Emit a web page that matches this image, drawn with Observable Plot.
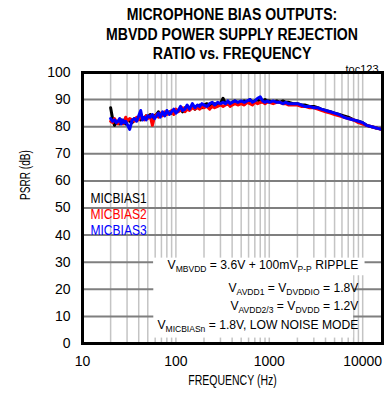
<!DOCTYPE html>
<html><head><meta charset="utf-8">
<script src="https://cdn.jsdelivr.net/npm/d3@7"></script>
<script src="https://cdn.jsdelivr.net/npm/@observablehq/plot@0.6"></script>
<style>
body{margin:0;background:#fff;}
#title{width:300px;padding:5px 2px 0 82px;height:53px;text-align:center;white-space:nowrap;font-family:"Liberation Sans",Arial,sans-serif;font-weight:bold;font-size:16px;line-height:19.5px;color:#000;transform:scaleX(0.88);transform-origin:232px 0;}
</style></head>
<body>
<div id="title">MICROPHONE BIAS OUTPUTS:<br>MBVDD POWER SUPPLY REJECTION<br>RATIO vs. FREQUENCY</div>
<div id="chart"></div>
<script>
const series = ["MICBIAS1","MICBIAS2","MICBIAS3"];
const seriesColors = ["#000000","#ff0000","#0000ff"];
const xTicks = [10,100,1000,10000];
const yTicks = [0,10,20,30,40,50,60,70,80,90,100];
const gridFreqs = [20,30,40,50,60,70,80,90,100,200,300,400,500,600,700,800,900,1000,2000,3000,4000,5000,6000,7000,8000,9000,10000];
const gridDb = [10,20,30,40,50,60,70,80,90];
const freq = [
 20,21,22,23,24,25,26,27,28,29,
 30,32,34,36,38,40,42,44,46,48,
 50,53,56,59,62,65,68,72,76,80,
 85,90,95,100,106,112,118,125,132,140,
 150,160,170,180,190,200,215,230,245,260,
 280,300,320,340,360,380,400,430,460,500,
 540,580,620,660,700,750,800,850,900,950,
 1000,1100,1200,1300,1400,1500,1600,1800,2000,2200,
 2400,2700,3000,3300,3600,4000,4500,5000,5600,6300,
 7000,8000,9000,10000,11000,12500,14000,16000];
const micbias1 = [
 87,83,80.5,81.5,82,81,82.5,81.5,82,81,
 82.5,82,81.5,83,82.5,83,82.5,83.5,83,84,
 83.5,84.5,83,84,84.5,85.5,84,85,84.5,85,
 85.5,85,86,85.5,86,86.5,85.5,87,86.5,87,
 87.5,86.5,87.5,88,87,88,88.5,87.5,88,88.5,
 88,88.5,90.5,88.5,89,88.5,89,89.5,88.5,89,
 89.5,89,90,89,89.5,90,89,89.5,90,89.5,
 89.5,89,89.5,89,89.5,89,89,88.5,88.5,88,
 88,87.5,87.5,87,86.5,86,85.5,85,84.5,84,
 83.5,82.5,82,81.5,80.5,80,79.5,79];
const micbias2 = [
 82,81.5,83,82,81,82.5,81.5,81,82,83.5,
 82,83,82.5,82,83.5,82.5,84,83,82.5,84,
 83,84,80.5,83.5,84.5,83.5,85,84,85.5,84.5,
 85,86,84.5,86.5,85.5,86,87,85.5,86.5,86,
 87,86.5,87,86.5,87.5,87,87.5,86.5,87.5,87,
 87.5,88,87.5,88,88.5,87.5,88,88.5,88,88.5,
 88,89,88.5,88,89,88.5,89,89,88.5,89,
 89,88.5,89,89,88.5,88.5,88,88,88,87.5,
 87.5,87,87,86.5,86,85.5,85,84.5,84,83.5,
 83,82.5,81.5,81,80.5,80,79.5,79];
const micbias3 = [
 83,82,82.5,81.5,82,83,81,82.5,81.5,82,
 81,79,82.5,83,82,84,86,82.5,83.5,82.5,
 84,83.5,84.5,83,84,85,83.5,85.5,84,86,
 84.5,85.5,86.5,85,86,87.5,86,86.5,88,86.5,
 88.5,87,88,87.5,88.5,88,87.5,88.5,89,88,
 89,88.5,89,88.5,89.5,88.5,89,89.5,89,89.5,
 89,89.5,90,89,89.5,90.5,91,89.5,89,89.5,
 89,89.5,89,89,88.5,89,88.5,88.5,88.5,88,
 87.5,87.5,87,87,86.5,86,85.5,85,84.5,83.5,
 83,82.5,82,81.5,80.5,80,79.5,79];
const notes = [
 "V_{MBVDD} = 3.6V + 100mV_{P-P} RIPPLE",
 "V_{AVDD1} = V_{DVDDIO} = 1.8V",
 "V_{AVDD2/3} = V_{DVDD} = 1.2V",
 "V_{MICBIASn} = 1.8V, LOW NOISE MODE"];
const xLabel = "FREQUENCY (Hz)";
const yLabel = "PSRR (dB)";

const values = [micbias1, micbias2, micbias3];
const data = [];
series.forEach((s, i) => freq.forEach((f, j) => data.push({series: s, f, v: values[i][j]})));

const font = "'Liberation Sans', Arial, sans-serif";
const noteDy = [-75, -52, -34, -15];
const legendDy = [121, 137, 153];

const chart = Plot.plot({
  width: 384, height: 335,
  marginTop: 14, marginLeft: 82, marginRight: 2, marginBottom: 50,
  style: {fontFamily: font, fontSize: "14px", background: "white", color: "black", overflow: "visible"},
  x: {type: "log", domain: [10, 16300], ticks: xTicks, tickFormat: d => String(d), tickSize: 0, tickPadding: 13, label: null},
  y: {domain: [0, 100], ticks: yTicks, tickSize: 0, tickPadding: 12, label: null},
  color: {domain: series, range: seriesColors},
  marks: [
    Plot.ruleX(gridFreqs, {x: d => d, stroke: "#c4c4c4", strokeWidth: 1.5}),
    Plot.ruleY(gridDb, {y: d => d, stroke: "#7f7f7f", strokeWidth: 2}),
    Plot.rect([0], {x1: 58, x2: 8000, y1: 2, y2: 31, fill: "white"}),
    Plot.rect([0], {x1: 58, x2: 10600, y1: 25, y2: 31.5, fill: "white"}),
    Plot.line(data, {x: "f", y: "v", stroke: "series", strokeWidth: 3}),
    Plot.frame({stroke: "black", strokeWidth: 3}),
    ...series.map((s, i) => Plot.text([s], {text: d => d, frameAnchor: "top-left", dx: 8, dy: legendDy[i], textAnchor: "start", fill: seriesColors[i], fontSize: 14})),
    ...notes.map((n, i) => Plot.text([n], {text: d => d, frameAnchor: "bottom-right", dx: -22, dy: noteDy[i], textAnchor: "end", fill: "black", fontSize: 13.5})),
    Plot.text(["toc123"], {text: d => d, frameAnchor: "top-right", dx: -4, dy: -7, textAnchor: "end", fontSize: 11}),
    Plot.text([yLabel], {text: d => d, frameAnchor: "left", dx: -57, dy: -8, rotate: -90, fontSize: 14}),
    Plot.text([xLabel], {text: d => d, frameAnchor: "bottom", dy: 41, fontSize: 14})
  ]
});

const ns = "http://www.w3.org/2000/svg";
const condensed = new Map([...series.map(s => [s, 0.86]), [xLabel, 0.75], [yLabel, 0.72]]);
const toCondense = [];
const noteTexts = [];
chart.querySelectorAll("text").forEach(t => {
  const s = t.textContent;
  if (condensed.has(s)) toCondense.push([t, condensed.get(s)]);
  if (notes.includes(s)) noteTexts.push(t);
  if (!s.includes("_{")) return;
  while (t.firstChild) t.removeChild(t.firstChild);
  let shifted = false;
  for (const p of s.split(/(_\{[^}]*\})/)) {
    if (!p) continue;
    const ts = document.createElementNS(ns, "tspan");
    if (p.startsWith("_{")) {
      ts.textContent = p.slice(2, -1);
      ts.setAttribute("font-size", "9.5");
      ts.setAttribute("dy", "3");
      shifted = true;
    } else {
      ts.textContent = p;
      if (shifted) { ts.setAttribute("dy", "-3"); shifted = false; }
    }
    t.appendChild(ts);
  }
});
document.getElementById("chart").appendChild(chart);
for (const [t, k] of toCondense) {
  const len = t.getComputedTextLength();
  t.setAttribute("textLength", (len * k).toFixed(1));
  t.setAttribute("lengthAdjust", "spacingAndGlyphs");
}
// condense the annotation lines horizontally around their right edge
const svgBox = chart.getBoundingClientRect();
for (const t of noteTexts) {
  const r = t.getBoundingClientRect();
  const ax = r.right - svgBox.left;
  const g = document.createElementNS(ns, "g");
  g.setAttribute("transform", `translate(${ax},0) scale(0.9,1) translate(${-ax},0)`);
  t.parentNode.insertBefore(g, t);
  g.appendChild(t);
}
</script>
</body></html>
